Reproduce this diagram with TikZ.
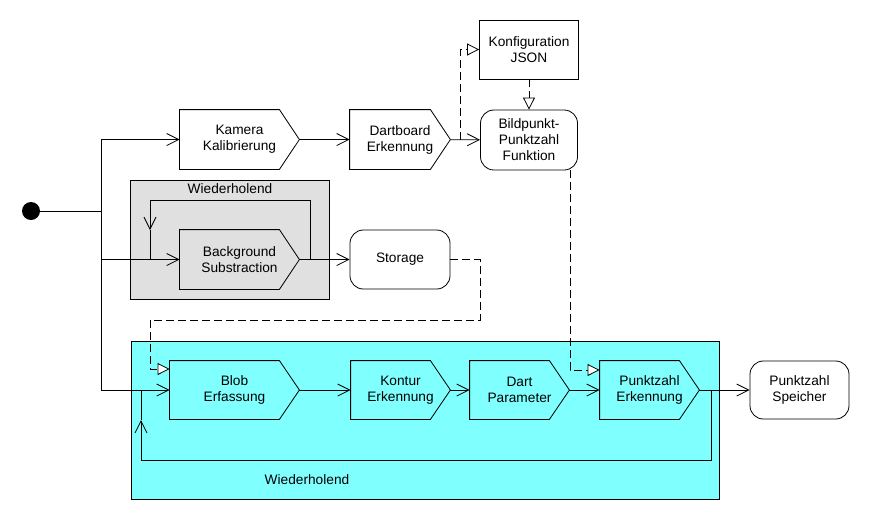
\documentclass[tikz,border=0pt]{standalone}
\usepackage{fontspec}
\setmainfont{Liberation Sans}
\usetikzlibrary{arrows.meta}

\definecolor{greybg}{HTML}{E0E0E0}
\definecolor{cyanbg}{HTML}{80FFFF}

\tikzset{
	act/.style={minimum height=1.77cm, inner sep=0pt, align=center},
	roundact/.style={act, draw, rounded corners=0.4cm},
	barb/.style={-{Straight Barb[length=0.36cm,width=0.36cm]}},
	dashtri/.style={dash pattern=on 0.24cm off 0.12cm, -{Triangle[open,length=0.36cm,width=0.36cm,fill=white]}},
}

% pentagon outline round an act node
\newcommand\actframe[1]{\draw (#1.north west) -- ([xshift=-0.6cm]#1.north east) -- (#1.east) -- ([xshift=-0.6cm]#1.south east) -- (#1.south west) -- cycle;}

\begin{document}
\begin{tikzpicture}[x=0.03cm, y=-0.03cm, line width=0.7pt, font=\fontsize{11.7}{13.7}\selectfont]
	\useasboundingbox (0,0) rectangle (870,520);
	
	% containers
	\node[draw, fill=greybg, minimum width=5.97cm, minimum height=3.57cm, inner sep=0pt] (greybox) at (229.5,239.5) {};
	\node (greylabel) at (230,189) {Wiederholend};
	\node[draw, fill=cyanbg, minimum width=17.64cm, minimum height=4.74cm, inner sep=0pt] (cyanbox) at (425,420) {};
	\node (cyanlabel) at (307,480) {Wiederholend};
	
	% nodes
	\node[circle, fill=black, minimum size=0.54cm, inner sep=0pt] (start) at (31,211) {};
	\node[act, minimum width=3.57cm] (kamera) at (239.5,139.5) {Kamera\\Kalibrierung};
	\node[act, minimum width=3cm] (dartboard) at (400,139.5) {Dartboard\\Erkennung};
	\node[roundact, minimum width=2.91cm, minimum height=1.8cm] (bildpunkt) at (529,140) {Bildpunkt-\\Punktzahl\\Funktion};
	\node[act, draw, minimum width=2.97cm] (konfig) at (529,49.5) {Konfiguration\\JSON};
	\node[act, minimum width=3.57cm] (bgsub) at (239.5,259.5) {Background\\Substraction};
	\node[roundact, minimum width=3cm] (storage) at (400,259.5) {Storage};
	\node[act, minimum width=3.87cm, minimum height=1.74cm] (blob) at (234.5,390) {Blob\\Erfassung};
	\node[act, minimum width=2.97cm, minimum height=1.74cm] (kontur) at (400.5,390) {Kontur\\Erkennung};
	\node[act, minimum width=2.97cm, minimum height=1.74cm] (dart) at (519.5,390) {Dart\\Parameter};
	\node[act, minimum width=2.97cm, minimum height=1.74cm] (pkterk) at (649.5,390) {Punktzahl\\Erkennung};
	\node[roundact, minimum width=2.97cm, minimum height=1.74cm] (speicher) at (799.5,390) {Punktzahl\\Speicher};
	
	\actframe{kamera}
	\actframe{dartboard}
	\actframe{bgsub}
	\actframe{blob}
	\actframe{kontur}
	\actframe{dart}
	\actframe{pkterk}
	
	% helper points
	\coordinate (split) at (101,211);
	\coordinate (bgturn) at (310,200);
	\coordinate (bgleft) at (150,200);
	\coordinate (bgtip) at (150,230);
	\coordinate (bgback) at (150,259.5);
	\coordinate (stA) at (480,320);
	\coordinate (stB) at (150,369);
	\coordinate (dbA) at (460,139.5);
	\coordinate (bpA) at (570,170);
	\coordinate (bpB) at (570,370);
	\coordinate (lpA) at (711,460);
	\coordinate (lpB) at (141,460);
	\coordinate (lpC) at (141,420);
	\coordinate (lpD) at (141,390);
	
	% connectors
	\draw (start) -- (split);
	\draw[barb] (split) |- (kamera);
	\draw[barb] (split) |- (bgsub);
	\draw[barb] (split) |- (blob);
	\draw[barb] (kamera) -- (dartboard);
	\draw[barb] (dartboard) -- (bildpunkt);
	\draw[dashtri] (dbA) |- (konfig);
	\draw[dashtri] (konfig) -- (bildpunkt);
	\draw[barb] (bgsub) -- (storage);
	\draw (bgsub.east) -| (bgturn) -- (bgleft);
	\draw[barb] (bgleft) -- (bgtip);
	\draw (bgtip) -- (bgback);
	\draw[dashtri] (storage.east) -| (stA) -| (stB) -- (stB -| blob.west);
	\draw[barb] (blob) -- (kontur);
	\draw[barb] (kontur) -- (dart);
	\draw[barb] (dart) -- (pkterk);
	\draw[dashtri] (bpA) -- (bpB) -- (bpB -| pkterk.west);
	\draw[barb] (pkterk) -- (speicher);
	\draw (pkterk.east) -| (lpA) -- (lpB);
	\draw[barb] (lpB) -- (lpC);
	\draw (lpC) -- (lpD);
	
\end{tikzpicture}
\end{document}
